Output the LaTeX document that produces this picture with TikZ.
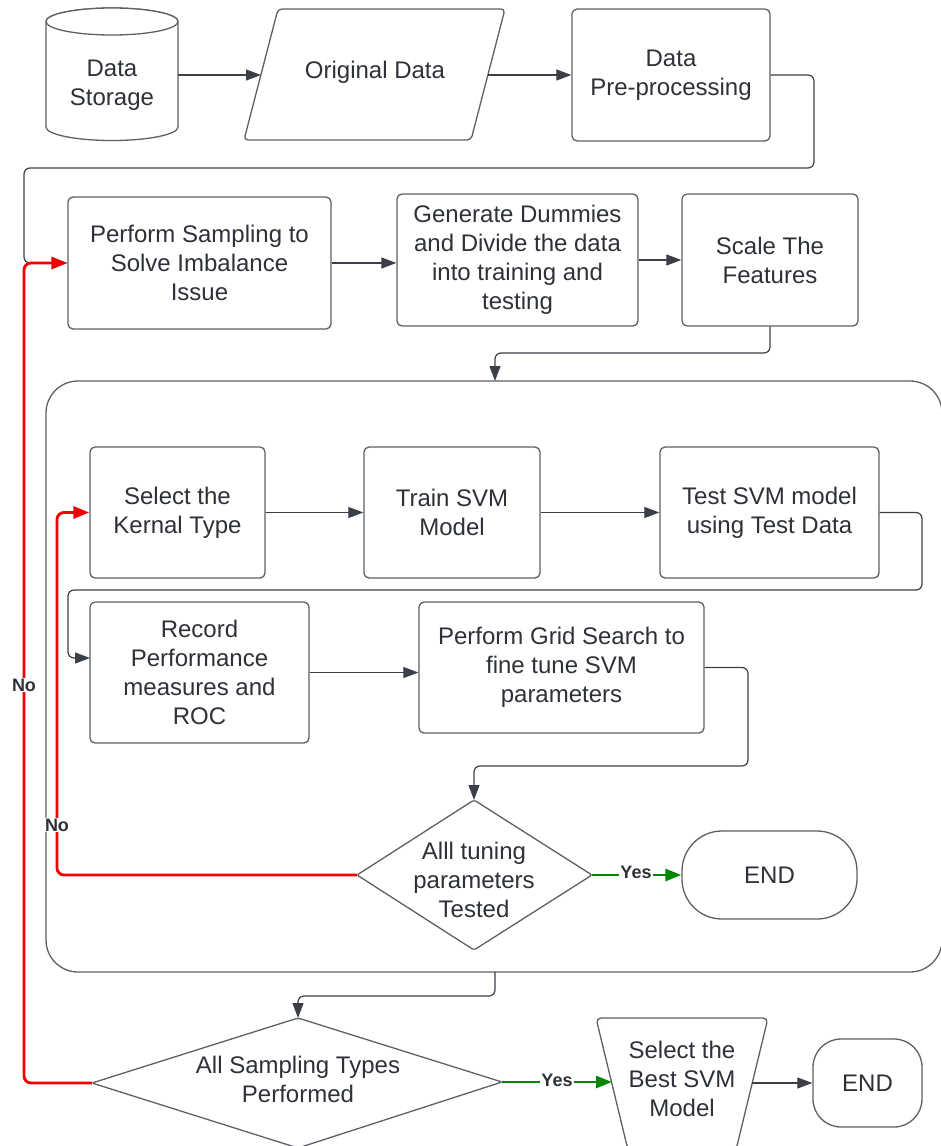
\documentclass[tikz,border=0pt]{standalone}
\usepackage{fontspec}
\setmainfont{Liberation Sans}
\usetikzlibrary{arrows.meta}
\definecolor{boxcol}{RGB}{92,96,103}
\definecolor{linecol}{RGB}{58,63,72}
\definecolor{txtcol}{RGB}{45,49,56}
\definecolor{redcol}{RGB}{240,0,0}
\definecolor{greencol}{RGB}{0,135,0}
\tikzset{
  box/.style={draw=boxcol, line width=1.3pt, rounded corners=5pt, fill=white, align=center, inner sep=0pt, text=txtcol, font=\fontsize{24pt}{29pt}\selectfont},
  txt/.style={align=center, inner sep=0pt, text=txtcol, font=\fontsize{24pt}{29pt}\selectfont},
  shapeline/.style={draw=boxcol, line width=1.3pt, fill=white},
  conn/.style={color=linecol, line width=1.2pt, rounded corners=6pt, -{Triangle[length=15pt,width=11pt]}},
  redconn/.style={color=redcol, line width=2.8pt, rounded corners=7pt, -{Triangle[length=16pt,width=12pt]}},
  greenconn/.style={color=greencol, line width=2.8pt, -{Triangle[length=16pt,width=12pt]}},
  lbl/.style={fill=white, inner sep=1pt, text=txtcol, font=\bfseries\fontsize{18pt}{20pt}\selectfont}
}
\begin{document}
\begin{tikzpicture}[x=1pt,y=-1pt]
\useasboundingbox (0,0) rectangle (940,1146);

% container
\node[draw=boxcol, line width=1.3pt, rounded corners=32pt, minimum width=896pt, minimum height=591pt, inner sep=0pt] (cont) at (494,676.5) {};
\coordinate (contN) at (495,381);
\coordinate (contS) at (495,972);

% cylinder: Data Storage
\draw[shapeline] (46,21.5) -- (46,127) arc[start angle=180, end angle=360, x radius=66pt, y radius=13.5pt] -- (178,21.5) arc[start angle=0, end angle=180, x radius=66pt, y radius=13.5pt] -- cycle;
\draw[shapeline] (112,21.5) ellipse[x radius=66pt, y radius=13.5pt];
\node[txt] (ds) at (112,85) {Data\\Storage};
\coordinate (dsE) at (178,75);

% parallelogram: Original Data
\draw[shapeline, rounded corners=4pt] (244,140) -- (278,9) -- (505,9) -- (471,140) -- cycle;
\node[txt] (od) at (375,72) {Original Data};
\coordinate (odW) at (261,75);
\coordinate (odE) at (488,75);

\node[box, minimum width=198pt, minimum height=132pt] (pre) at (671,75) {Data\\Pre-processing};

\node[box, minimum width=263pt, minimum height=132pt] (samp) at (199.5,263) {Perform Sampling to\\Solve Imbalance\\Issue};
\node[box, minimum width=241pt, minimum height=132pt] (gen) at (517.5,260) {Generate Dummies\\and Divide the data\\into training and\\testing};
\node[box, minimum width=176pt, minimum height=132pt] (scale) at (770,260) {Scale The\\Features};

\node[box, minimum width=175pt, minimum height=131pt] (sel) at (177.5,512.5) {Select the\\Kernal Type};
\node[box, minimum width=176pt, minimum height=131pt] (train) at (452,512.5) {Train SVM\\Model};
\node[box, minimum width=219pt, minimum height=131pt] (test) at (769.5,512.5) {Test SVM model\\using Test Data};

\node[box, minimum width=219pt, minimum height=141pt] (rec) at (199.5,672.5) {Record\\Performance\\measures and\\ROC};
\node[box, minimum width=285pt, minimum height=131pt] (grid) at (561.5,667.5) {Perform Grid Search to\\fine tune SVM\\parameters};

% diamond 1
\draw[shapeline, rounded corners=2pt] (474,800) -- (592,875) -- (474,950) -- (357,875) -- cycle;
\node[txt] (d1) at (474,880) {Alll tuning\\parameters\\Tested};
\coordinate (d1N) at (474,800);
\coordinate (d1E) at (592,875);
\coordinate (d1W) at (357,875);

\node[box, rounded corners=40pt, minimum width=175pt, minimum height=88pt] (end1) at (769.5,875) {END};

% diamond 2
\draw[shapeline, rounded corners=2pt] (298,1018) -- (502,1082) -- (298,1148) -- (92,1083) -- cycle;
\node[txt] (d2) at (298,1079) {All Sampling Types\\Performed};
\coordinate (d2N) at (298,1018);
\coordinate (d2E) at (502,1082);
\coordinate (d2W) at (92,1083);

% trapezoid
\draw[shapeline, rounded corners=5pt] (596,1018) -- (768,1018) -- (736,1150) -- (628,1150) -- cycle;
\node[txt] (best) at (682,1079) {Select the\\Best SVM\\Model};
\coordinate (bestW) at (612,1082);
\coordinate (bestE) at (752,1083);

\node[box, rounded corners=28pt, minimum width=109pt, minimum height=88pt] (end2) at (867.5,1083) {END};

% connectors
\draw[conn] (dsE) -- (odW);
\draw[conn] (odE) -- (pre.west);
\draw[conn] (pre.east) -- (814,75) -- (814,168) -- (24,168) -- (24,263) -- (samp.west);
\draw[conn] (samp.east) -- (samp.east -| gen.west);
\draw[conn] (gen.east) -- (scale.west);
\draw[conn] (scale.south) -- (770,353) -- (495,353) -- (contN);
\draw[conn] (sel.east) -- (train.west);
\draw[conn] (train.east) -- (test.west);
\draw[conn] (test.east) -- (922,512.5) -- (922,590) -- (68,590) -- (68,658) -- (90,658);
\draw[conn] (rec.east) -- (rec.east -| grid.west);
\draw[conn] (grid.east) -- (748,667.5) -- (748,766) -- (474,766) -- (d1N);
\draw[conn] (contS) -- (495,996) -- (298,996) -- (d2N);
\draw[conn] (bestE) -- (end2.west);

% red "No" loops
\draw[redconn] (d2W) -- (24,1083) -- (24,263) -- (samp.west);
\node[lbl] (no1) at (24,685) {No};
\draw[redconn] (d1W) -- (57,875) -- (57,512.5) -- (sel.west);
\node[lbl] (no2) at (57,825) {No};

% green "Yes"
\draw[greenconn] (d1E) -- (end1.west);
\node[lbl] (yes1) at (636,872) {Yes};
\draw[greenconn] (d2E) -- (bestW);
\node[lbl] (yes2) at (557,1080) {Yes};

\end{tikzpicture}
\end{document}
